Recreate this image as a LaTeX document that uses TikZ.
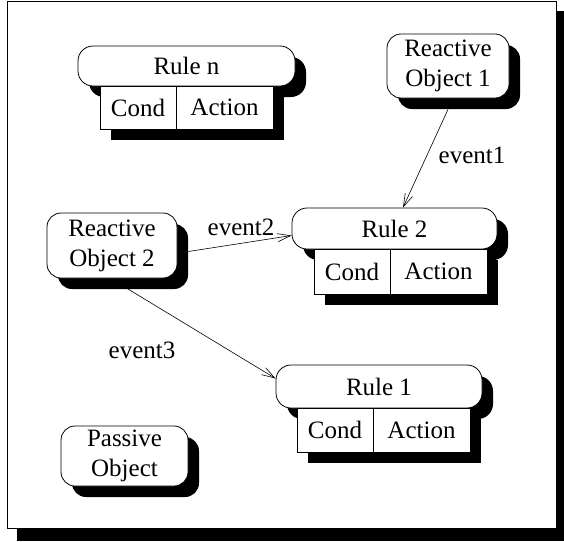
\documentclass[tikz,border=0pt]{standalone}
\usepackage{fontspec}
\setmainfont{Liberation Serif}
\usetikzlibrary{arrows.meta,shadows}
\tikzset{box/.style={draw,fill=white,line width=0.8pt,inner sep=0pt,
  font=\fontsize{25}{30}\selectfont,align=center,
  drop shadow={shadow xshift=11pt,shadow yshift=-11pt,fill=black,opacity=1}}}
\tikzset{obj/.style={box,rounded corners=14pt}}
\tikzset{rulehead/.style={box,rounded corners=15pt}}
\tikzset{cell/.style={box}}
\tikzset{evt/.style={-{Straight Barb[length=13pt,width=8pt]},line width=0.6pt}}
\tikzset{lbl/.style={font=\fontsize{25}{30}\selectfont,inner sep=0pt}}

\begin{document}
\begin{tikzpicture}[x=1pt,y=-1pt]
      \useasboundingbox (0,0) rectangle (564,541);
      \fill (17,11) rectangle (564,541);
      \draw [fill=white,line width=0.8pt] (7,1) rectangle (556,528);
      % rule n
      \node [rulehead,minimum width=217,minimum height=40] (rn) at (186.5,66) {Rule n};
      \node [cell,minimum width=76,minimum height=43] (condn) at (138,107.5) {Cond};
      \node [cell,minimum width=97,minimum height=43] (actn) at (224.5,107.5) {Action};
      % rule 2
      \node [rulehead,minimum width=205,minimum height=41] (rtwo) at (394.5,228.5) {Rule 2};
      \node [cell,minimum width=76,minimum height=45] (condtwo) at (352,271.5) {Cond};
      \node [cell,minimum width=97,minimum height=45] (acttwo) at (438.5,271.5) {Action};
      % rule 1
      \node [rulehead,minimum width=206,minimum height=43] (rone) at (379,386.5) {Rule 1};
      \node [cell,minimum width=76,minimum height=44] (condone) at (335,430) {Cond};
      \node [cell,minimum width=97,minimum height=44] (actone) at (421.5,430) {Action};
      % objects
      \node [obj,minimum width=122,minimum height=64] (roone) at (448,66) {Reactive\\Object 1};
      \node [obj,minimum width=130,minimum height=65] (rotwo) at (112,245.5) {Reactive\\Object 2};
      \node [obj,minimum width=127,minimum height=60] (po) at (124.5,456) {Passive\\Object};
      % events
      \draw [evt] ([yshift=-11pt]roone.south) -- ([xshift=8.5pt]rtwo.north);
      \draw [evt] ([xshift=11pt,yshift=-6pt]rotwo.east) -- ([yshift=-7pt]rtwo.west);
      \draw [evt] ([xshift=15pt,yshift=-10pt]rotwo.south) -- ([yshift=8pt]rone.west);
      \node [lbl] (eone) at (472,155) {event1};
      \node [lbl] (etwo) at (241,227) {event2};
      \node [lbl] (ethree) at (142,350) {event3};
    \end{tikzpicture}
\end{document}
